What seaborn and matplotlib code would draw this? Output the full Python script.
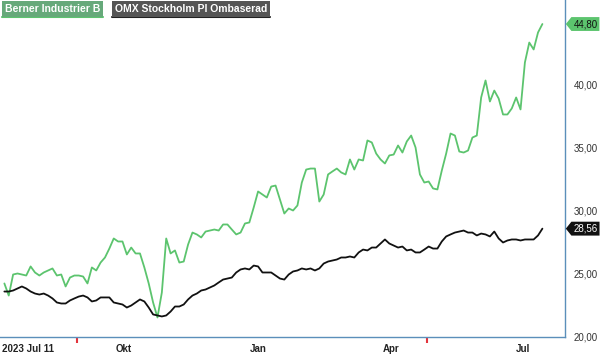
import numpy as np
import pandas as pd
import seaborn as sns
import matplotlib.pyplot as plt
from matplotlib.path import Path
from matplotlib.lines import Line2D

# closing prices, one value every third day starting 2023-07-11
start = "2023-07-11"
berner = [24.21, 23.25, 24.92, 25.00, 24.92, 24.84, 25.56, 25.08, 24.84, 25.08,
          25.24, 25.40, 24.84, 24.92, 23.97, 24.68, 24.84, 24.84, 24.76, 24.21,
          25.48, 25.24, 25.87, 26.27, 26.98, 27.78, 27.54, 27.54, 26.51, 27.06,
          26.59, 26.59, 25.48, 24.21, 22.70, 21.51, 23.49, 27.78, 26.59, 26.83,
          25.87, 25.95, 27.30, 28.25, 28.10, 27.86, 28.33, 28.41, 28.49, 28.41,
          28.89, 28.89, 28.49, 28.10, 28.25, 28.97, 29.05, 30.24, 31.51, 31.27,
          31.03, 31.90, 31.98, 30.87, 29.76, 30.16, 30.00, 30.40, 32.22, 33.25,
          33.33, 33.33, 30.71, 31.27, 32.86, 33.10, 33.33, 33.02, 32.86, 34.05,
          33.25, 34.05, 33.97, 35.56, 35.40, 34.52, 34.05, 33.73, 34.37, 34.44,
          35.16, 34.60, 35.48, 35.95, 35.00, 32.86, 32.22, 32.30, 31.75, 31.67,
          33.17, 34.52, 36.11, 35.95, 34.68, 34.60, 34.76, 35.79, 35.95, 38.97,
          40.32, 38.65, 39.52, 38.89, 37.62, 37.62, 38.10, 38.97, 38.02, 41.75,
          43.33, 42.78, 44.13, 44.80]
omx = [23.57, 23.57, 23.65, 23.81, 23.97, 23.81, 23.57, 23.41, 23.33, 23.41,
       23.25, 23.02, 22.70, 22.62, 22.62, 22.86, 23.02, 23.17, 23.25, 23.10,
       22.78, 22.86, 23.10, 23.10, 23.10, 22.70, 22.62, 22.54, 22.30, 22.46,
       22.70, 22.94, 22.78, 22.30, 21.75, 21.67, 21.59, 21.67, 21.98, 22.38,
       22.38, 22.54, 22.94, 23.25, 23.41, 23.65, 23.73, 23.89, 24.05, 24.29,
       24.52, 24.60, 24.68, 25.08, 25.32, 25.40, 25.32, 25.63, 25.56, 25.08,
       25.08, 25.08, 24.84, 24.60, 24.52, 24.92, 25.16, 25.24, 25.40, 25.32,
       25.40, 25.24, 25.40, 25.79, 25.95, 26.03, 26.11, 26.27, 26.27, 26.35,
       26.27, 26.67, 26.90, 26.83, 27.06, 27.06, 27.38, 27.70, 27.38, 27.22,
       27.06, 27.14, 26.83, 26.90, 26.67, 26.67, 26.90, 27.14, 26.98, 26.98,
       27.54, 27.94, 28.10, 28.25, 28.33, 28.41, 28.25, 28.25, 28.02, 28.17,
       28.10, 27.94, 28.33, 27.78, 27.46, 27.62, 27.70, 27.70, 27.62, 27.70,
       27.70, 27.70, 28.02, 28.56]

names = ["Berner Industrier B", "OMX Stockholm PI Ombaserad"]
tick_dates = ["2023-10-01", "2024-01-01", "2024-04-01", "2024-07-01"]
tick_labels = ["Okt", "Jan", "Apr", "Jul"]
event_dates = ["2023-08-30", "2024-04-26"]
y_ticks = [20, 25, 30, 35, 40]

green = "#5cc46e"
black = "#111111"
blue = "#5b8fba"

df = pd.DataFrame({
    "date": list(pd.date_range(start, periods=len(berner), freq="3D"))
            + list(pd.date_range(start, periods=len(omx), freq="3D")),
    "value": berner + omx,
    "series": [names[0]] * len(berner) + [names[1]] * len(omx),
})

sns.set_theme(style="white")
plt.rcParams["font.family"] = ["Liberation Sans", "DejaVu Sans"]

fig = plt.figure(figsize=(6, 3.56), dpi=100)
ax = fig.add_axes([0, 19 / 356, 565 / 600, 337 / 356])

sns.lineplot(data=df, x="date", y="value", hue="series", palette=[green, black],
             linewidth=1.3, legend=False, ax=ax)

ax.set_xlim(pd.Timestamp("2023-07-08"), pd.Timestamp("2024-07-29 12:00"))
ax.set_ylim(19.96, 19.96 + 337 / 12.6)
ax.set_xlabel("")
ax.set_ylabel("")

for s in ["left", "top"]:
    ax.spines[s].set_visible(False)
for s in ["bottom", "right"]:
    ax.spines[s].set_color(blue)
    ax.spines[s].set_linewidth(1.0)

# y axis on the right, comma decimals
ax.yaxis.tick_right()
ax.set_yticks(y_ticks)
ax.set_yticklabels([f"{v:.2f}".replace(".", ",") for v in y_ticks])
ax.tick_params(axis="y", length=0, pad=6, labelsize=7, labelcolor="#333333")

ax.set_xticks(pd.to_datetime(tick_dates))
ax.set_xticklabels(tick_labels, fontweight="bold")
ax.tick_params(axis="x", length=3.5, width=1, color=blue, pad=1.5,
               labelsize=7, labelcolor="#222222")
ax.text(0.004, -0.021, "2023 Jul 11", transform=ax.transAxes, ha="left", va="top",
        fontsize=7, fontweight="bold", color="#222222")

# red event markers under the axis
ax.vlines(pd.to_datetime(event_dates), -0.018, 0, transform=ax.get_xaxis_transform(),
          color="#e3343c", linewidth=1.5, clip_on=False)


def tag_box(x0, y0, width, height, mutation_size):
    pad = 0.2 * mutation_size
    x0, y0 = x0 - pad, y0 - pad
    x1, y1 = x0 + width + 2 * pad, y0 + height + 2 * pad
    h = (y1 - y0) / 2
    return Path([(x0, y0), (x1, y0), (x1, y1), (x0, y1), (x0 - h * 0.8, y0 + h), (x0, y0)],
                closed=True)


for val, fc, tc in [(berner[-1], green, "#111111"), (omx[-1], black, "white")]:
    ax.annotate(f"{val:.2f}".replace(".", ","), xy=(1.0, val),
                xycoords=("axes fraction", "data"), xytext=(6, 0),
                textcoords="offset points", ha="left", va="center",
                fontsize=7, color=tc, annotation_clip=False,
                bbox=dict(boxstyle=tag_box, fc=fc, ec="none"))

# legend boxes at the top
renderer = fig.canvas.get_renderer()
x_px = 5
for name, fc, uc in [(names[0], "#66a97a", green), (names[1], "#555555", "#222222")]:
    t = fig.text(x_px / 600, 1 - 4 / 356, name, fontsize=7.5, fontweight="bold",
                 color="white", ha="left", va="top",
                 bbox=dict(boxstyle="square,pad=0.25", fc=fc, ec="none"))
    fig.canvas.draw()
    bb = t.get_bbox_patch().get_window_extent(renderer)
    fig.add_artist(Line2D([bb.x0 / 600, bb.x1 / 600], [bb.y0 / 356, bb.y0 / 356],
                          color=uc, linewidth=1.5, transform=fig.transFigure))
    x_px = bb.x1 + 12

fig.savefig("out.png", dpi=100)
